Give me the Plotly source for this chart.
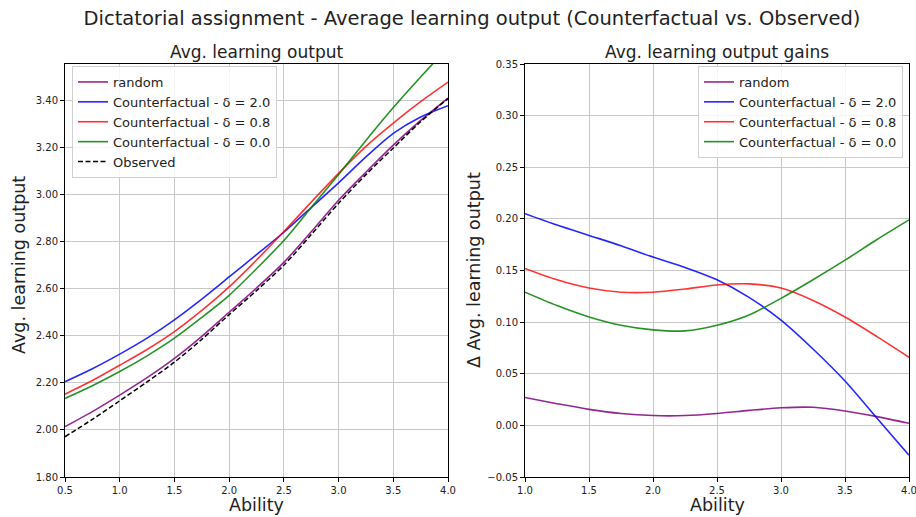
import plotly.graph_objects as go

# ---------------- data ----------------
ability_left = [0.5, 0.75, 1.0, 1.25, 1.5, 1.75, 2.0, 2.25, 2.5, 2.75, 3.0, 3.25, 3.5, 3.75, 4.0]
random_out = [2.014, 2.078, 2.148, 2.222, 2.304, 2.398, 2.50, 2.603, 2.712, 2.842, 2.976, 3.095, 3.21, 3.315, 3.41]
cf_d20_out = [2.205, 2.26, 2.322, 2.39, 2.468, 2.556, 2.65, 2.745, 2.84, 2.945, 3.05, 3.16, 3.26, 3.33, 3.378]
cf_d08_out = [2.152, 2.21, 2.275, 2.342, 2.418, 2.508, 2.608, 2.722, 2.843, 2.968, 3.09, 3.205, 3.304, 3.395, 3.478]
cf_d00_out = [2.134, 2.188, 2.248, 2.315, 2.39, 2.478, 2.572, 2.685, 2.805, 2.945, 3.085, 3.23, 3.37, 3.50, 3.625]
observed_out = [1.971, 2.045, 2.124, 2.204, 2.288, 2.385, 2.49, 2.592, 2.70, 2.83, 2.963, 3.085, 3.198, 3.31, 3.408]

ability_right = [1.0, 1.25, 1.5, 1.75, 2.0, 2.25, 2.5, 2.75, 3.0, 3.25, 3.5, 3.75, 4.0]
random_gain = [0.027, 0.021, 0.0155, 0.0115, 0.0095, 0.0095, 0.0115, 0.0145, 0.017, 0.0175, 0.014, 0.0085, 0.002]
cf_d20_gain = [0.205, 0.194, 0.184, 0.174, 0.163, 0.153, 0.141, 0.124, 0.102, 0.074, 0.043, 0.007, -0.029]
cf_d08_gain = [0.152, 0.141, 0.133, 0.129, 0.129, 0.132, 0.136, 0.137, 0.133, 0.121, 0.105, 0.086, 0.066]
cf_d00_gain = [0.129, 0.116, 0.105, 0.097, 0.0925, 0.0915, 0.097, 0.107, 0.123, 0.141, 0.16, 0.18, 0.199]

labels = ["random", "Counterfactual - δ = 2.0", "Counterfactual - δ = 0.8", "Counterfactual - δ = 0.0"]
colors = ["rgba(128,0,128,0.85)", "rgba(0,0,255,0.85)", "rgba(255,0,0,0.8)", "rgba(0,128,0,0.85)"]

left_ticks = [1.8, 2.0, 2.2, 2.4, 2.6, 2.8, 3.0, 3.2, 3.4]
right_ticks = [-0.05, 0.0, 0.05, 0.10, 0.15, 0.20, 0.25, 0.30, 0.35]

FONT = "DejaVu Sans"

fig = go.Figure()

left_series = [random_out, cf_d20_out, cf_d08_out, cf_d00_out]
for lab, col, ys in zip(labels, colors, left_series):
    fig.add_trace(go.Scatter(x=ability_left, y=ys, mode="lines", name=lab,
                             line=dict(color=col, width=1.6, shape="spline", smoothing=0.8),
                             xaxis="x", yaxis="y", legend="legend"))
fig.add_trace(go.Scatter(x=ability_left, y=observed_out, mode="lines", name="Observed",
                         line=dict(color="black", width=1.5, dash="5px,2.5px", shape="spline", smoothing=0.8),
                         xaxis="x", yaxis="y", legend="legend"))

right_series = [random_gain, cf_d20_gain, cf_d08_gain, cf_d00_gain]
for lab, col, ys in zip(labels, colors, right_series):
    fig.add_trace(go.Scatter(x=ability_right, y=ys, mode="lines", name=lab,
                             line=dict(color=col, width=1.6, shape="spline", smoothing=0.8),
                             xaxis="x2", yaxis="y2", legend="legend2"))

W, H = 916, 517
ml, mr, mt, mb = 65, 7, 64, 40
pw = W - ml - mr
ph = H - mt - mb


def px_to_paper(px, py):
    return (px - ml) / pw, 1 - (py - mt) / ph


axis_common = dict(showline=True, mirror=True, linecolor="black", linewidth=1,
                   showgrid=True, gridcolor="#c8c8c8", gridwidth=1,
                   ticks="outside", ticklen=4, tickcolor="black", tickwidth=1,
                   tickfont=dict(family=FONT, size=10, color="#222"), zeroline=False,
                   automargin=False, ticklabeloverflow="allow")

legend_common = dict(bgcolor="rgba(255,255,255,0.85)", bordercolor="#d0d0d0", borderwidth=1,
                     font=dict(family=FONT, size=13, color="#222"),
                     xref="paper", yref="paper", xanchor="left", yanchor="top",
                     tracegroupgap=0, itemwidth=30)

lx1, ly1 = px_to_paper(72, 66)
lx2, ly2 = px_to_paper(698, 66)

fig.update_layout(
    width=W, height=H,
    margin=dict(l=ml, r=mr, t=mt, b=mb, autoexpand=False),
    paper_bgcolor="white", plot_bgcolor="white",
    font=dict(family=FONT, color="#222"),
    title=dict(text="Dictatorial assignment - Average learning output (Counterfactual vs. Observed)",
               font=dict(family=FONT, size=19.5, color="#222"),
               x=472 / W, xanchor="center", y=1 - 18 / H, yanchor="middle",
               xref="container", yref="container"),
    xaxis=dict(domain=[0, 383 / pw], range=[0.5, 4.0], tickvals=[0.5, 1.0, 1.5, 2.0, 2.5, 3.0, 3.5, 4.0],
               tickformat=".1f", anchor="y", **axis_common),
    yaxis=dict(range=[1.8, 3.555], tickvals=left_ticks, tickformat=".2f", anchor="x", **axis_common),
    xaxis2=dict(domain=[460 / pw, 1], range=[1.0, 4.0], tickvals=[1.0, 1.5, 2.0, 2.5, 3.0, 3.5, 4.0],
                tickformat=".1f", anchor="y2", **axis_common),
    yaxis2=dict(range=[-0.05, 0.35], tickvals=right_ticks, tickformat=".2f", anchor="x2", **axis_common),
    legend=dict(x=lx1, y=ly1, **legend_common),
    legend2=dict(x=lx2, y=ly2, **legend_common),
    showlegend=True,
)

annots = [
    dict(text="Avg. learning output", x=256, y=52, size=17, angle=0),
    dict(text="Avg. learning output gains", x=717, y=52, size=17, angle=0),
    dict(text="Ability", x=256, y=505, size=17.5, angle=0),
    dict(text="Ability", x=717, y=505, size=17.5, angle=0),
    dict(text="Avg. learning output", x=19, y=265, size=17.5, angle=-90),
    dict(text="Δ Avg. learning output", x=474, y=270, size=17.5, angle=-90),
]
for a in annots:
    ax, ay = px_to_paper(a["x"], a["y"])
    fig.add_annotation(text=a["text"], x=ax, y=ay, xref="paper", yref="paper",
                       showarrow=False, textangle=a["angle"], xanchor="center", yanchor="middle",
                       font=dict(family=FONT, size=a["size"], color="#222"))

fig.write_html("out.html")
